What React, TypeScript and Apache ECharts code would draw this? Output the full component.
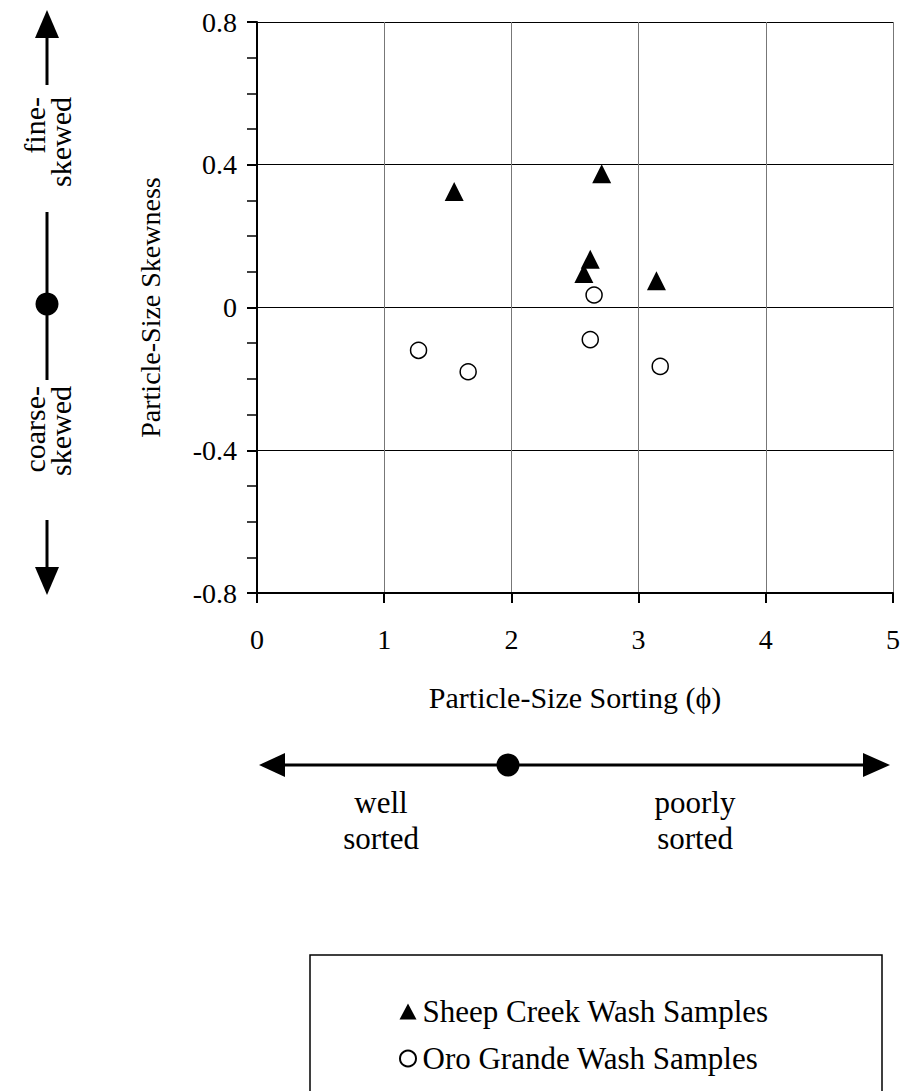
import React, { useEffect, useRef } from "react";
import * as echarts from "echarts";

// Sample measurements: sorting (phi) vs. skewness
const sheepCreekSorting = [1.55, 2.71, 2.62, 2.57, 3.14];
const sheepCreekSkewness = [0.325, 0.375, 0.135, 0.095, 0.075];
const oroGrandeSorting = [1.27, 1.66, 2.65, 2.62, 3.17];
const oroGrandeSkewness = [-0.12, -0.18, 0.035, -0.09, -0.165];

const seriesNames = ["Sheep Creek Wash Samples", "Oro Grande Wash Samples"];
const xAxisTitle = "Particle-Size Sorting (\u03D5)";
const yAxisTitle = "Particle-Size Skewness";
const sortingLabels = ["well\nsorted", "poorly\nsorted"];
const skewLabels = ["fine-\nskewed", "coarse-\nskewed"];

const FONT = '"Liberation Serif", "Times New Roman", serif';

function pairs(xs: number[], ys: number[]) {
  return xs.map((x, i) => [x, ys[i]]);
}

export default function App() {
  const ref = useRef<HTMLDivElement>(null);

  useEffect(() => {
    if (!ref.current) return;
    const chart = echarts.init(ref.current, undefined, { renderer: "svg" });

    const black = "#000";
    const textStyle = { fontFamily: FONT, color: black };

    chart.setOption({
      animation: false,
      backgroundColor: "#fff",
      grid: { left: 257, top: 22, width: 636, height: 571 },
      xAxis: {
        type: "value",
        min: 0,
        max: 5,
        interval: 1,
        name: xAxisTitle,
        nameLocation: "middle",
        nameGap: 89,
        nameTextStyle: { ...textStyle, fontSize: 30 },
        axisLine: { onZero: false, lineStyle: { color: black, width: 2 } },
        axisTick: { show: true, length: 10, lineStyle: { color: black, width: 2 } },
        axisLabel: { ...textStyle, fontSize: 28, margin: 32 },
        splitLine: { show: true, lineStyle: { color: "#777", width: 1 } },
      },
      yAxis: {
        type: "value",
        min: -0.8,
        max: 0.8,
        interval: 0.4,
        name: yAxisTitle,
        nameLocation: "middle",
        nameGap: 93,
        nameRotate: 90,
        nameTextStyle: { ...textStyle, fontSize: 28 },
        axisLine: { onZero: false, lineStyle: { color: black, width: 2 } },
        axisTick: { show: true, length: 10, lineStyle: { color: black, width: 2 } },
        minorTick: { show: true, splitNumber: 4, length: 10, lineStyle: { color: black, width: 1.5 } },
        axisLabel: { ...textStyle, fontSize: 28, margin: 20 },
        splitLine: { show: true, lineStyle: { color: black, width: 1 } },
      },
      legend: {
        left: 394,
        top: 991,
        orient: "vertical",
        itemGap: 16,
        itemWidth: 17,
        itemHeight: 16,
        textStyle: { ...textStyle, fontSize: 31, padding: [0, 0, 0, 1] },
        data: [
          { name: seriesNames[0], icon: "triangle" },
          { name: seriesNames[1], icon: "circle" },
        ],
      },
      series: [
        {
          name: seriesNames[0],
          type: "scatter",
          symbol: "triangle",
          symbolSize: 19,
          itemStyle: { color: black, opacity: 1 },
          data: pairs(sheepCreekSorting, sheepCreekSkewness),
        },
        {
          name: seriesNames[1],
          type: "scatter",
          symbol: "circle",
          symbolSize: 16,
          itemStyle: { color: "#fff", borderColor: black, borderWidth: 1.5, opacity: 1 },
          data: pairs(oroGrandeSorting, oroGrandeSkewness),
        },
      ],
      graphic: [
        // legend frame
        {
          type: "rect",
          shape: { x: 310, y: 955, width: 572, height: 200 },
          style: { fill: "none", stroke: black, lineWidth: 1.5 },
          z: 1,
        },
        // sorting scale: double-headed arrow with a dot at 2 phi
        { type: "line", shape: { x1: 280, y1: 765, x2: 868, y2: 765 }, style: { stroke: black, lineWidth: 3 } },
        { type: "polygon", shape: { points: [[259, 765], [285, 753], [285, 777]] }, style: { fill: black } },
        { type: "polygon", shape: { points: [[890, 765], [863, 753], [863, 777]] }, style: { fill: black } },
        { type: "circle", shape: { cx: 508, cy: 765, r: 11.5 }, style: { fill: black } },
        {
          type: "text",
          x: 381,
          y: 820,
          style: { text: sortingLabels[0], font: `31px ${FONT}`, fill: black, align: "center", verticalAlign: "middle", lineHeight: 36 },
        },
        {
          type: "text",
          x: 695,
          y: 820,
          style: { text: sortingLabels[1], font: `31px ${FONT}`, fill: black, align: "center", verticalAlign: "middle", lineHeight: 36 },
        },
        // skewness scale: vertical arrow with a dot at zero
        { type: "line", shape: { x1: 47, y1: 36, x2: 47, y2: 85 }, style: { stroke: black, lineWidth: 3 } },
        { type: "line", shape: { x1: 47, y1: 212, x2: 47, y2: 380 }, style: { stroke: black, lineWidth: 3 } },
        { type: "line", shape: { x1: 47, y1: 520, x2: 47, y2: 570 }, style: { stroke: black, lineWidth: 3 } },
        { type: "polygon", shape: { points: [[47, 10], [35, 38], [59, 38]] }, style: { fill: black } },
        { type: "polygon", shape: { points: [[47, 595], [35, 567], [59, 567]] }, style: { fill: black } },
        { type: "circle", shape: { cx: 47, cy: 304, r: 11.5 }, style: { fill: black } },
        {
          type: "text",
          x: 47,
          y: 97,
          rotation: Math.PI / 2,
          style: { text: skewLabels[0], font: `30px ${FONT}`, fill: black, align: "right", verticalAlign: "middle", lineHeight: 26 },
        },
        {
          type: "text",
          x: 47,
          y: 386,
          rotation: Math.PI / 2,
          style: { text: skewLabels[1], font: `30px ${FONT}`, fill: black, align: "right", verticalAlign: "middle", lineHeight: 26 },
        },
      ],
    });

    return () => chart.dispose();
  }, []);

  return (
    <div
      ref={ref}
      style={{ position: "fixed", left: 0, top: 0, width: 903, height: 1091, background: "#fff" }}
    />
  );
}
